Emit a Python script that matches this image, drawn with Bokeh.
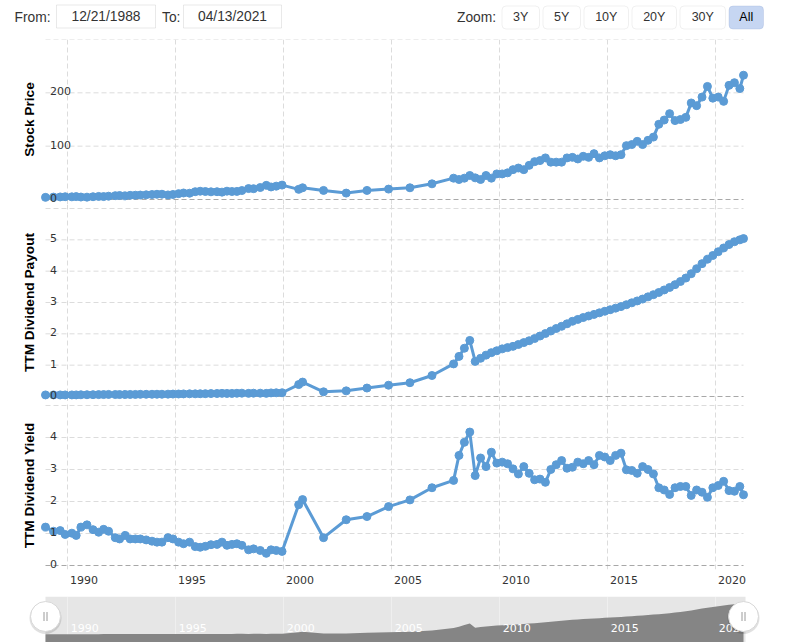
import math
from bokeh.plotting import figure
from bokeh.layouts import column
from bokeh.models import (Range1d, FixedTicker, LinearAxis, Grid,
                          BoxAnnotation, ColumnDataSource)
from bokeh.core.properties import value
from bokeh.embed import file_html
from bokeh.resources import INLINE

# ---------------- data (decimal years) ----------------
dates = [1988.97, 1989.34, 1989.65, 1989.88, 1990.19, 1990.39, 1990.61, 1990.89, 1991.17, 1991.43,
         1991.66, 1991.89, 1992.20, 1992.40, 1992.66, 1992.89, 1993.13, 1993.36, 1993.63, 1993.90,
         1994.13, 1994.36, 1994.64, 1994.87, 1995.13, 1995.36, 1995.64, 1995.90, 1996.13, 1996.37,
         1996.63, 1996.91, 1997.14, 1997.37, 1997.60, 1997.83, 1998.06, 1998.37, 1998.60, 1998.91,
         1999.19, 1999.41, 1999.65, 1999.92,
         2000.69, 2000.87, 2001.84, 2002.89, 2003.85, 2004.85, 2005.84, 2006.86,
         2007.86, 2008.11, 2008.36, 2008.61, 2008.86, 2009.11, 2009.36, 2009.61, 2009.86, 2010.11,
         2010.36, 2010.61, 2010.86, 2011.11, 2011.36, 2011.61, 2011.86, 2012.11, 2012.36, 2012.61,
         2012.86, 2013.11, 2013.36, 2013.61, 2013.86, 2014.11, 2014.36, 2014.61, 2014.86, 2015.11,
         2015.36, 2015.61, 2015.86, 2016.11, 2016.36, 2016.61, 2016.86, 2017.11, 2017.36, 2017.61,
         2017.86, 2018.11, 2018.36, 2018.61, 2018.86, 2019.11, 2019.36, 2019.61, 2019.86, 2020.11,
         2020.36, 2020.61, 2020.86, 2021.11, 2021.28]

stock_price = [4.0, 4.5, 4.8, 5.2, 5.0, 5.4, 4.6, 4.4, 5.2, 5.8,
               5.5, 6.2, 7.2, 7.5, 6.8, 7.8, 8.0, 8.3, 8.8, 9.3,
               9.8, 9.9, 8.6, 9.4, 11.0, 12.2, 11.8, 14.6, 15.5, 15.0,
               14.4, 14.6, 13.8, 15.6, 15.0, 15.2, 16.8, 20.5, 20.3, 22.5,
               26.5, 23.5, 25.0, 27.0,
               19.0, 22.0, 17.0, 12.0, 17.0, 19.5, 22.0, 29.4,
               40, 37.5, 40, 45, 40.6, 37.5, 45, 40, 48, 48,
               50, 56, 59, 56, 64, 71, 73, 78, 70, 70,
               70, 78, 79, 76, 81, 79, 86, 78, 82, 84,
               82, 84, 101, 103, 109, 103, 111, 117, 141, 149,
               161, 148, 150, 154, 181, 176, 192, 212, 190, 192,
               184, 214, 219, 208, 233]

ttm_payout = [0.050, 0.050, 0.050, 0.050, 0.050, 0.051, 0.055, 0.056, 0.058, 0.060,
              0.062, 0.066, 0.063, 0.062, 0.064, 0.065, 0.066, 0.069, 0.070, 0.071,
              0.072, 0.072, 0.075, 0.078, 0.080, 0.083, 0.086, 0.086, 0.088, 0.090,
              0.094, 0.096, 0.100, 0.098, 0.099, 0.103, 0.106, 0.100, 0.106, 0.106,
              0.100, 0.115, 0.118, 0.119,
              0.38, 0.46, 0.15, 0.18, 0.27, 0.36, 0.44, 0.67,
              1.04, 1.28, 1.54, 1.79, 1.12, 1.22, 1.32, 1.40, 1.46, 1.52,
              1.56, 1.60, 1.66, 1.72, 1.78, 1.85, 1.93, 2.01, 2.09, 2.17,
              2.24, 2.32, 2.40, 2.46, 2.52, 2.57, 2.62, 2.67, 2.72, 2.77,
              2.82, 2.87, 2.93, 2.99, 3.05, 3.11, 3.18, 3.25, 3.32, 3.40,
              3.48, 3.57, 3.67, 3.78, 3.92, 4.08, 4.24, 4.38, 4.50, 4.62,
              4.74, 4.85, 4.94, 5.00, 5.04]

ttm_yield = [1.20, 1.07, 1.09, 0.97, 1.01, 0.94, 1.20, 1.27, 1.12, 1.04,
             1.13, 1.07, 0.87, 0.83, 0.94, 0.83, 0.83, 0.83, 0.80, 0.76,
             0.73, 0.73, 0.87, 0.83, 0.73, 0.68, 0.73, 0.59, 0.57, 0.60,
             0.65, 0.66, 0.73, 0.63, 0.66, 0.68, 0.63, 0.49, 0.52, 0.47,
             0.38, 0.49, 0.47, 0.44,
             1.90, 2.06, 0.87, 1.43, 1.53, 1.84, 2.05, 2.43,
             2.66, 3.44, 3.85, 4.17, 2.81, 3.36, 3.09, 3.54, 3.20, 3.23,
             3.18, 3.02, 2.86, 3.09, 2.88, 2.68, 2.70, 2.60, 3.00, 3.15,
             3.28, 3.04, 3.07, 3.23, 3.18, 3.28, 3.15, 3.44, 3.39, 3.28,
             3.44, 3.51, 2.99, 2.97, 2.88, 3.09, 3.00, 2.86, 2.43, 2.36,
             2.22, 2.43, 2.47, 2.47, 2.19, 2.36, 2.29, 2.13, 2.43, 2.50,
             2.63, 2.34, 2.32, 2.47, 2.21]

year_ticks = [1990, 1995, 2000, 2005, 2010, 2015, 2020]
year_labels = ["1990", "1995", "2000", "2005", "2010", "2015", "2020"]

price_grid = [0, 100, 200, 300]
price_labels = [0, 100, 200]
payout_grid = [0, 1, 2, 3, 4, 5, 6]
payout_labels = [0, 1, 2, 3, 4, 5]
yield_grid = [0, 1, 2, 3, 4, 5]
yield_labels = [0, 1, 2, 3, 4]

from_date = "12/21/1988"
to_date = "04/13/2021"
zoom_buttons = ["3Y", "5Y", "10Y", "20Y", "30Y", "All"]

# ---------------- layout constants ----------------
W = 785
X0, X1 = 1988.97, 2021.28          # data span = plot area 45..743 px
FRAME_L, FRAME_R = 45, 743
PPY = (FRAME_R - FRAME_L) / (X1 - X0)
XSTART = X0 - FRAME_L / PPY         # canvas x = 0
XEND = X1 + (W - FRAME_R) / PPY     # canvas x = 785
BLUE = "#5b9bd5"
GRID = "#dcdcdc"
ZERO = "#a8a8a8"
TICK_FONT = "DejaVu Sans"
UI_FONT = "Liberation Sans"

src = ColumnDataSource(dict(d=dates, price=stock_price, payout=ttm_payout, yld=ttm_yield))
xr = Range1d(XSTART, XEND)


def base_fig(height, x_range, y_range, border_bottom=0):
    return figure(width=W, height=height, x_range=x_range, y_range=y_range,
                  x_axis_type=None, y_axis_type=None, output_backend="svg",
                  toolbar_location=None, min_border_left=0, min_border_right=0,
                  min_border_top=0, min_border_bottom=border_bottom,
                  outline_line_color=None, background_fill_color="white",
                  border_fill_color="white")


def make_panel(col, top_val, px_per_unit, pad_top, pad_bottom, grid_ticks, label_ticks,
               title, height, border_bottom=0):
    ylo = -pad_bottom / px_per_unit
    yhi = top_val + pad_top / px_per_unit
    p = base_fig(height, xr, Range1d(ylo, yhi), border_bottom)
    p.add_layout(Grid(dimension=0, ticker=FixedTicker(ticks=year_ticks),
                      grid_line_color=GRID, grid_line_dash="5 3"))
    hg = [t for t in grid_ticks if t != 0]
    p.segment(x0=[X0] * len(hg), y0=hg, x1=[X1] * len(hg), y1=hg,
              line_color=GRID, line_dash="5 3", line_width=1)
    p.segment(x0=[X0], y0=[0], x1=[X1], y1=[0], line_color=ZERO, line_dash="5 3",
              line_width=1)
    p.line("d", col, source=src, line_width=3, color=BLUE)
    p.scatter("d", col, source=src, size=8, color=BLUE)
    p.text(x=[X0] * len(label_ticks), y=label_ticks, text=[str(t) for t in label_ticks],
           x_offset=4.5, y_offset=-1.5, text_font=value(TICK_FONT), text_font_size="11px",
           text_color="#333333", text_baseline="alphabetic", text_align="left")
    p.text(x=[X0 - 16 / PPY], y=[top_val / 2], text=[title], angle=math.pi / 2,
           text_align="center", text_baseline="middle", text_font=value(UI_FONT),
           text_font_style="bold", text_font_size="13.7px", text_color="#000000")
    return p


p1 = make_panel("price", 300, 160 / 300, 0, 5, price_grid, price_labels, "Stock Price", 165)
p2 = make_panel("payout", 6, 188 / 6, 4, 5, payout_grid, payout_labels, "TTM Dividend Payout", 197)
p3 = make_panel("yld", 5, 32, 4, 4, yield_grid, yield_labels, "TTM Dividend Yield", 195,
                border_bottom=27)

xaxis = LinearAxis(ticker=FixedTicker(ticks=[t + 0.75 for t in year_ticks]),
                   major_label_overrides={t + 0.75: lab for t, lab in zip(year_ticks, year_labels)},
                   axis_line_color=None, major_tick_line_color=None,
                   minor_tick_line_color=None, major_tick_out=0, major_tick_in=0,
                   major_label_standoff=6, major_label_text_font=TICK_FONT,
                   major_label_text_font_size="11px", major_label_text_color="#333333")
p3.add_layout(xaxis, "below")

# ---------------- navigator ----------------
NAV_PPU = 6.13
nav_lo = -8 / NAV_PPU
nav_hi = 38 / NAV_PPU
nav = base_fig(46, Range1d(XSTART, XEND), Range1d(nav_lo, nav_hi))
nav.add_layout(BoxAnnotation(left=X0, right=X1 + 2 / PPY, bottom=nav_lo, top=nav_hi,
                             fill_color="#e6e6e6", fill_alpha=1, line_color=None, level="image"))
nav.varea(x="d", y1=nav_lo, y2="payout", source=src, fill_color="#858585")
nav.add_layout(Grid(dimension=0, ticker=FixedTicker(ticks=year_ticks),
                    grid_line_color="#ffffff", grid_line_alpha=0.35))
nav.text(x=year_ticks, y=[1.14] * len(year_ticks), text=year_labels, x_offset=3,
         text_font=value(TICK_FONT), text_font_size="11px", text_color="#ffffff",
         text_baseline="middle", text_align="left")
hy = 18 / NAV_PPU
nav.scatter([X0, X1], [hy - 1.5 / NAV_PPU] * 2, size=32, fill_color="#000000",
            fill_alpha=0.12, line_color=None)
nav.scatter([X0, X1], [hy] * 2, size=30, fill_color="#ffffff", line_color="#d8d8d8")
nav.scatter([X0 - 1.5 / PPY, X0 + 1.5 / PPY, X1 - 1.5 / PPY, X1 + 1.5 / PPY], [hy] * 4,
            marker="dash", angle=math.pi / 2, size=9, line_color="#9a9a9a", line_width=1)

# ---------------- top controls (pixel coordinates) ----------------
ctrl = base_fig(39, Range1d(0, W), Range1d(0, 39))


def ypx(v):
    return 39 - v


for l, r in [(56, 155), (183, 281)]:
    ctrl.add_layout(BoxAnnotation(left=l, right=r, top=ypx(4.5), bottom=ypx(27.5),
                                  fill_color="#ffffff", fill_alpha=1, line_color="#b5b5b5",
                                  line_width=1, level="underlay"))
btn_lr = [(501.5, 539), (542.5, 580), (583.5, 628), (631.5, 676), (679.5, 725), (728.5, 763)]
for (l, r), lab in zip(btn_lr, zoom_buttons):
    sel = lab == "All"
    ctrl.add_layout(BoxAnnotation(left=l, right=r, top=ypx(5.5), bottom=ypx(28.5),
                                  fill_color="#c6d6f2" if sel else "#ffffff", fill_alpha=1,
                                  line_color="#98acd6" if sel else "#cccccc", line_width=1,
                                  border_radius=4, level="underlay"))
ctrl.text(x=[(l + r) / 2 for l, r in btn_lr], y=[ypx(16.5)] * 6, text=zoom_buttons,
          text_font=value(UI_FONT), text_font_size="12.5px",
          text_color=["#333333"] * 5 + ["#000000"], text_align="center", text_baseline="middle")
ctrl.text(x=[14, 161.5, 456.5], y=[ypx(16.5)] * 3, text=["From:", "To:", "Zoom:"],
          text_font=value(UI_FONT), text_font_size="13.8px", text_color="#333333",
          text_align="left", text_baseline="middle")
ctrl.text(x=[105.5, 232], y=[ypx(16)] * 2, text=[from_date, to_date],
          text_font=value(UI_FONT), text_font_size="13.8px", text_color="#333333",
          text_align="center", text_baseline="middle")

layout = column(ctrl, p1, p2, p3, nav, spacing=0)
open("out.html", "w").write(file_html(layout, INLINE))
